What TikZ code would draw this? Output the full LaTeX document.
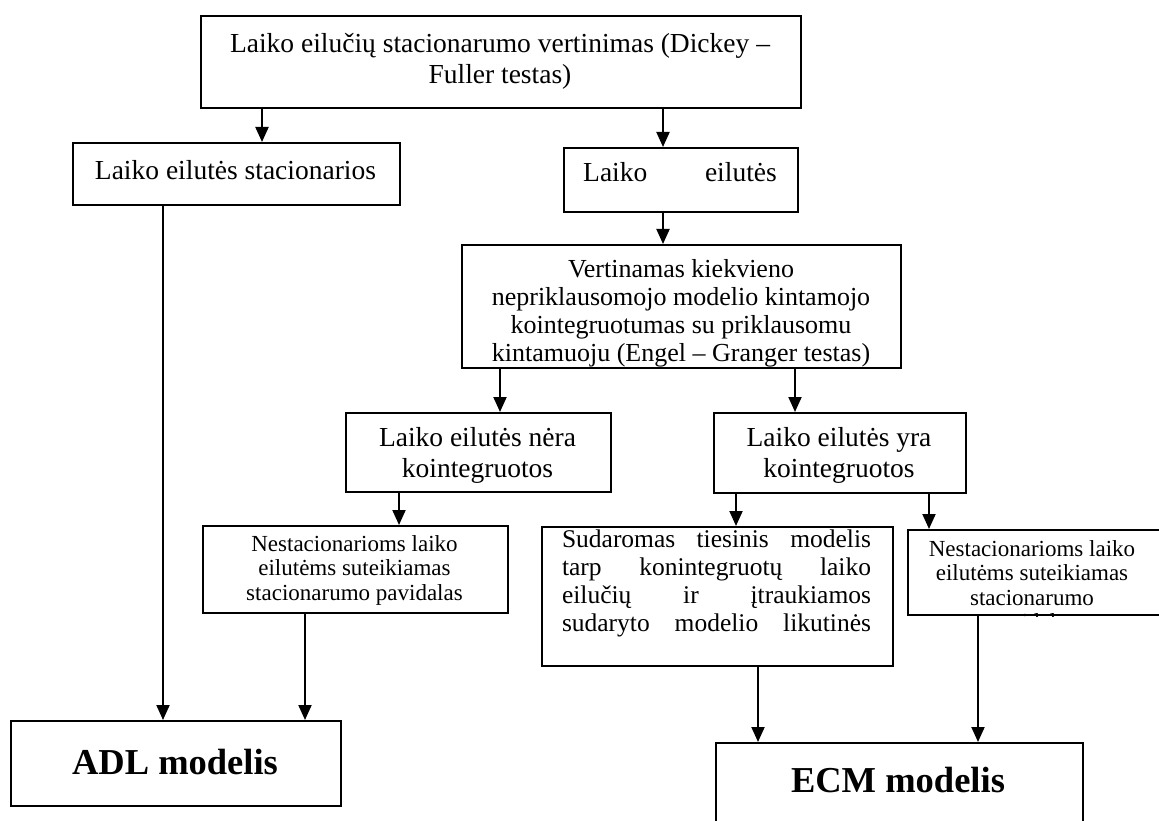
\documentclass[tikz,border=0pt]{standalone}
\usepackage{fontspec}
\setmainfont{Liberation Serif}
\usetikzlibrary{arrows.meta}
\newcommand\mkbox[5]{\node[box, minimum width={(#4-#2)*1pt}, minimum height={(#5-#3)*1pt}] (#1) at (#2,#3) {};}
\newcommand\vlink[3]{\draw[arr] (#1,0 |- #2.south) -- (#1,0 |- #3.north);}
\begin{document}
\begin{tikzpicture}[x=1pt,y=-1pt,
  box/.style={draw, line width=2pt, rectangle, inner sep=0pt, anchor=north west},
  arr/.style={line width=2pt, -{Triangle[length=15pt,width=13pt]}},
  txt/.style={inner sep=0pt, align=center},
  big/.style={font=\fontsize{27.5}{31}\selectfont},
  mid/.style={font=\fontsize{26}{28}\selectfont},
  sudf/.style={font=\fontsize{25.5}{28}\selectfont},
  small/.style={font=\fontsize{23}{24.5}\selectfont},
  huge/.style={font=\fontsize{36.5}{40}\selectfont\bfseries}]
\useasboundingbox (0,0) rectangle (1159,821);
\clip (0,0) rectangle (1159,821);
\fill[white] (0,0) rectangle (1159,821);
% boxes
\mkbox{top}{200}{15}{800}{107}
\mkbox{stac}{72}{142}{399}{204}
\mkbox{nst}{563}{147}{797}{211}
\mkbox{mid}{461}{244}{900}{367}
\mkbox{nera}{345}{412}{610}{491}
\mkbox{yra}{713}{412}{965}{492}
\mkbox{nl}{202}{525}{507}{612}
\mkbox{sud}{541}{526}{892}{665}
\mkbox{nr}{907}{529}{1162}{614}
\mkbox{adl}{10}{720}{340}{805}
\mkbox{ecm}{715}{742}{1082}{830}
% texts
\node[txt,big] (topT) at (500,61) {Laiko eilučių stacionarumo vertinimas (Dickey –\\Fuller testas)};
\node[txt,big] (stacT) at (235.5,170) {Laiko eilutės stacionarios};
\node[txt,big,anchor=west] (nstA) at (583,172) {Laiko};
\node[txt,big,anchor=east] (nstB) at (777,172) {eilutės};
\begin{scope}
\clip (mid.north west) rectangle (mid.south east);
\node[txt,mid,anchor=north] (midT) at (681,259) {Vertinamas kiekvieno\\nepriklausomojo modelio kintamojo\\kointegruotumas su priklausomu\\kintamuoju (Engel – Granger testas)};
\end{scope}
\node[txt,big] (neraT) at (477.5,455) {Laiko eilutės nėra\\kointegruotos};
\node[txt,big] (yraT) at (839,455) {Laiko eilutės yra\\kointegruotos};
\node[txt,small,anchor=north] (nlT) at (354.5,535) {Nestacionarioms laiko\\eilutėms suteikiamas\\stacionarumo pavidalas};
\begin{scope}
\clip (sud.north west) rectangle (sud.south east);
\node[txt,sudf,anchor=north,align=left] (sudT) at (716.5,530) {\hbox to 309pt{Sudaromas\hfill tiesinis\hfill modelis}\\\hbox to 309pt{tarp\hfill konintegruotų\hfill laiko}\\\hbox to 309pt{eilučių\hfill ir\hfill įtraukiamos}\\\hbox to 309pt{sudaryto\hfill modelio\hfill likutinės}};
\end{scope}
\begin{scope}
\clip (nr.north west) rectangle (nr.south east);
\node[txt,small,anchor=north] (nrT) at (1032,540) {Nestacionarioms laiko\\eilutėms suteikiamas\\stacionarumo\\pavidalas};
\end{scope}
\node[txt,huge] (adlT) at (175,762) {ADL modelis};
\node[txt,huge] (ecmT) at (898,780) {ECM modelis};
% connectors
\vlink{262}{top}{stac}
\vlink{663}{top}{nst}
\vlink{163}{stac}{adl}
\vlink{663}{nst}{mid}
\vlink{500}{mid}{nera}
\vlink{795}{mid}{yra}
\vlink{399}{nera}{nl}
\vlink{305}{nl}{adl}
\vlink{736}{yra}{sud}
\vlink{929}{yra}{nr}
\vlink{758}{sud}{ecm}
\vlink{978}{nr}{ecm}
\end{tikzpicture}
\end{document}
